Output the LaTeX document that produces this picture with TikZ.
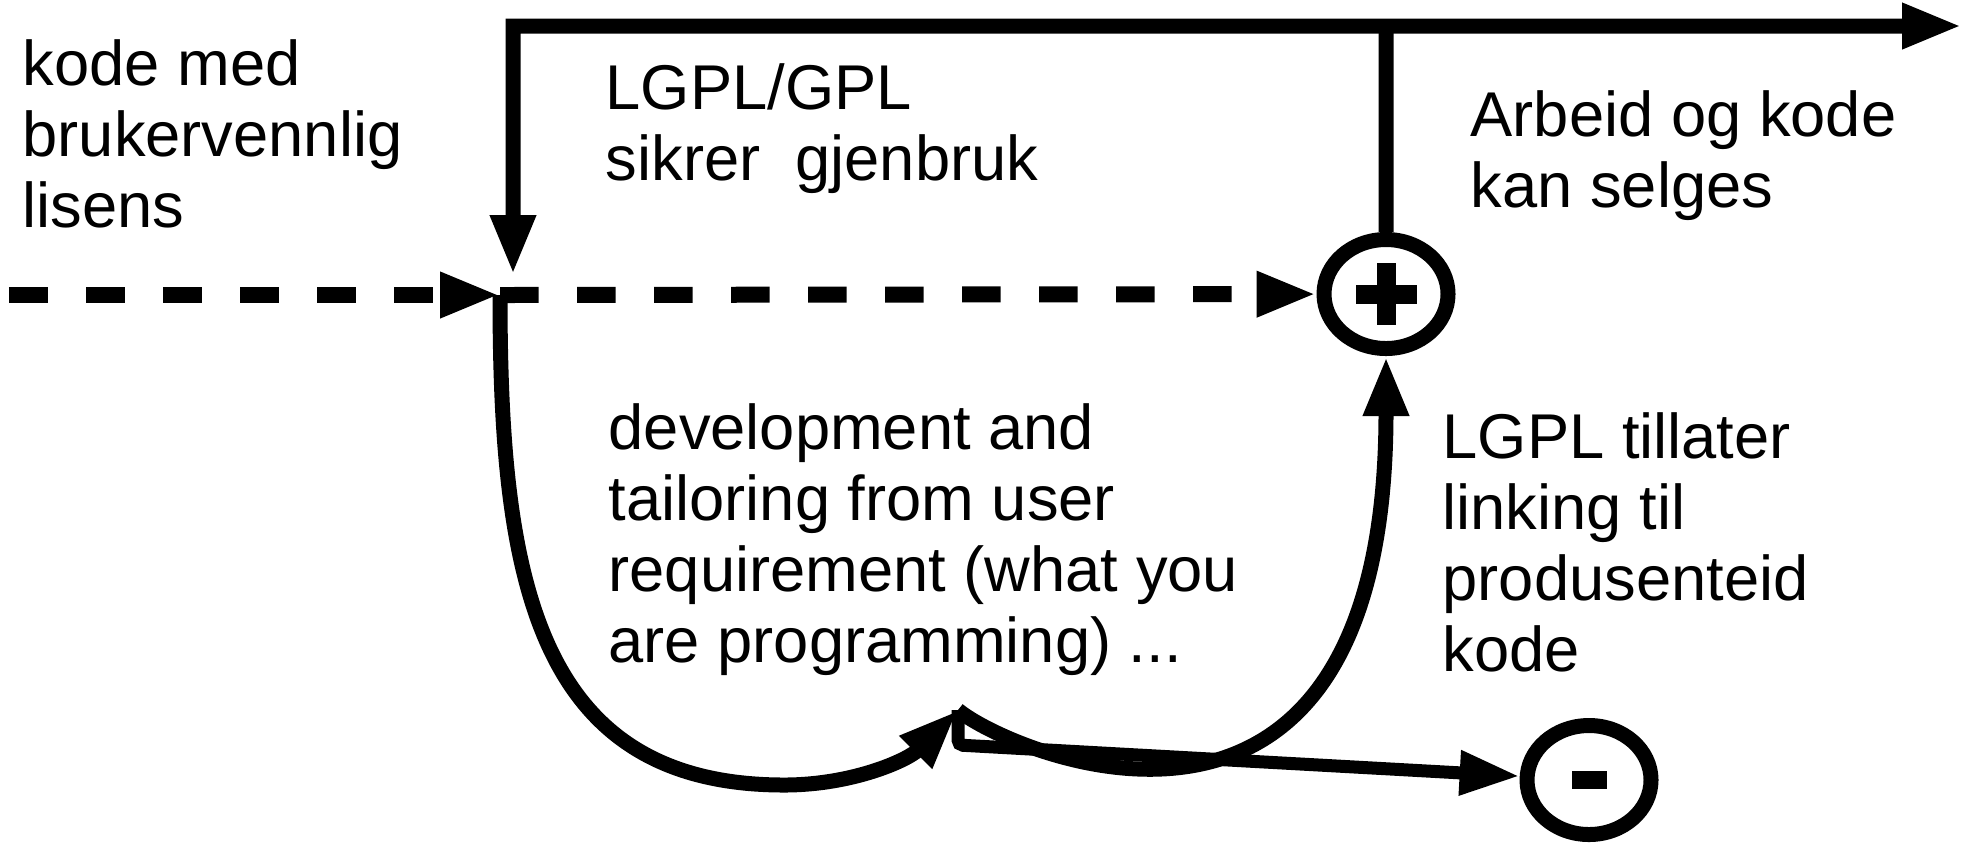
\documentclass[tikz,border=0pt]{standalone}
\usepackage{fontspec}
\setmainfont{Liberation Sans}
\usetikzlibrary{arrows.meta, positioning, shapes.geometric}

\begin{document}
\begin{tikzpicture}[every node/.style={inner sep=0pt}, >={Triangle[length=0.6cm, width=0.42cm]},
        txt/.style={anchor=north west, align=left, font=\fontsize{18}{20.2}\selectfont},
        ring/.style={ellipse, draw, line width=0.15cm, minimum width=1.24cm, minimum height=1.09cm},
        flow/.style={line width=0.15cm, ->},
        dashflow/.style={flow, line width=0.16cm, dash pattern=on 0.385cm off 0.385cm}]
                \useasboundingbox (0,0) rectangle (19.67,-8.42);
                \coordinate (corner) at (5.13,-0.26);
                \coordinate[right=14.49cm of corner] (out);
                \coordinate[right=8.73cm of corner] (tap);
                \coordinate (src) at (0.09,-2.95);
                \coordinate[right=4.91cm of src] (junc);
                \coordinate[above right=0.2cm and 0.13cm of junc] (dropin);
                \coordinate (dip) at (7.84,-7.85);
                \coordinate (low) at (9.58,-7.10);
                \node[ring] (plus) at (13.86,-2.94) {};
                \node[ring] (minus) at (15.89,-7.80) {};
                \fill ([shift={(-0.305,-0.095)}]plus.center) rectangle ++(0.61,0.19);
                \fill ([shift={(-0.095,-0.31)}]plus.center) rectangle ++(0.19,0.62);
                \fill ([shift={(-0.175,-0.09)}]minus.center) rectangle ++(0.35,0.18);
                \node[txt] (kode) at (0.22,-0.39) {kode med\\brukervennlig\\lisens};
                \node[txt] (lgpl) at (6.05,-0.63) {LGPL/GPL\\sikrer~ gjenbruk};
                \node[txt] (arbeid) at (14.70,-0.90) {Arbeid og kode\\kan selges};
                \node[txt] (dev) at (6.08,-4.03) {development and\\tailoring from user\\requirement (what you\\are programming) ...};
                \node[txt] (linking) at (14.42,-4.12) {LGPL tillater\\linking til\\produsenteid\\kode};
                \draw[flow, <->, line join=miter] (dropin) -- (corner) -- (out);
                \draw[line width=0.15cm] (tap) -- (plus);
                \draw[dashflow] (src) -- (junc);
                \draw[dashflow] (junc) -- (plus);
                \draw[flow] (junc) to[out=-90, in=180, out distance=2.8cm, in distance=2.5cm] (dip)
                    to[out=0, in=-135, distance=0.7cm] (low);
                \draw[flow] (low) to[out=-40, in=-90, out distance=0.66cm, in distance=5.6cm] (plus);
                \draw[flow, line width=0.13cm, rounded corners=0.05cm] (low) -- ++(0,-0.35) -- (minus);
            \end{tikzpicture}
\end{document}
